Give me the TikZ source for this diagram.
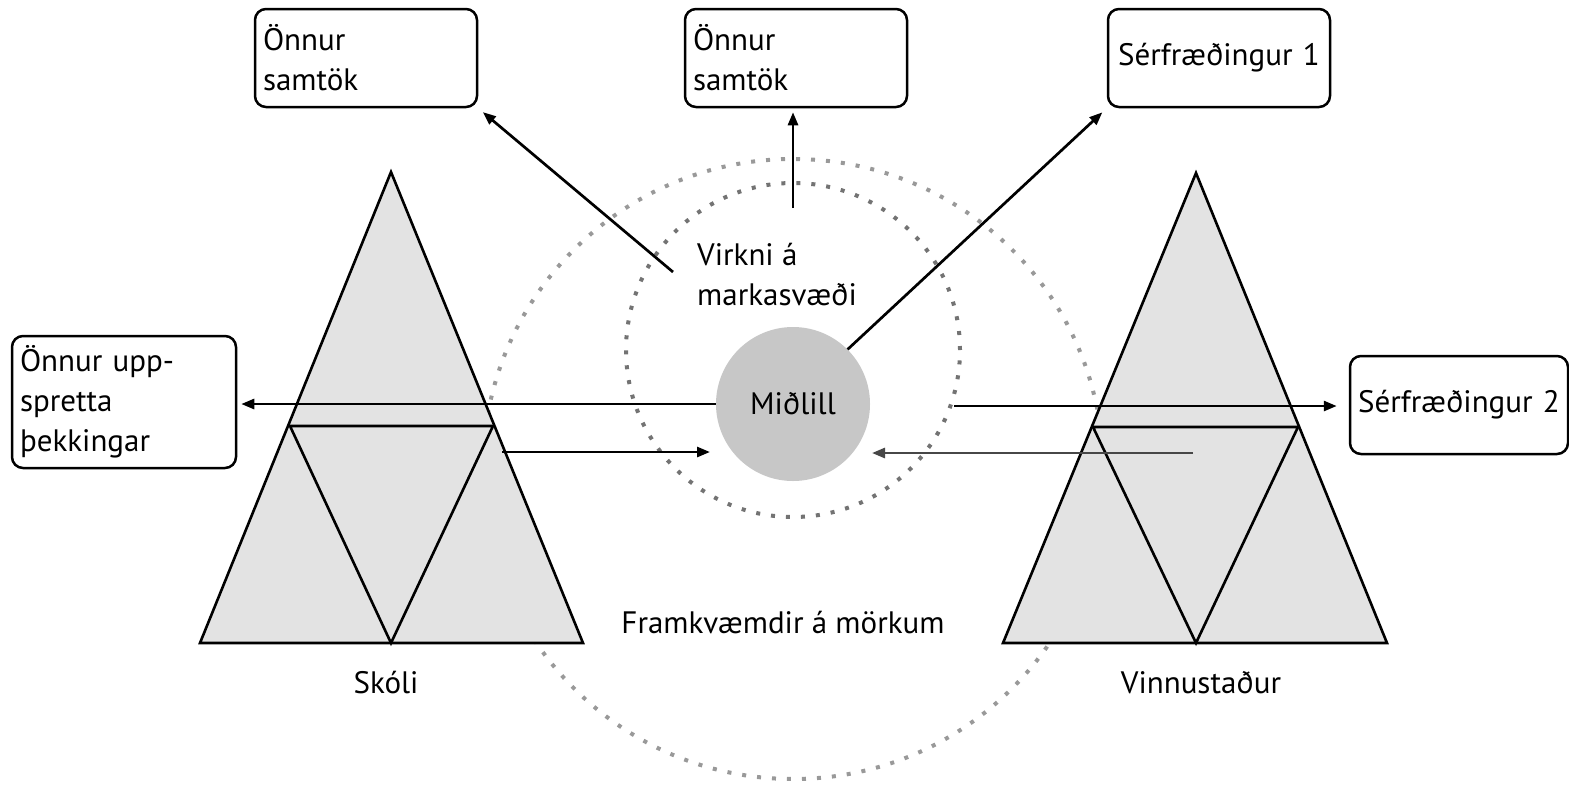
\documentclass[tikz,border=0pt]{standalone}
\usepackage{fontspec}
\setmainfont{PT Sans}
\usetikzlibrary{arrows.meta}
\begin{document}
\begin{tikzpicture}[x=1pt,y=-1pt,
  txt/.style={font=\fontsize{31}{40}\selectfont, inner sep=0pt},
  box/.style={draw, line width=2.5pt, rounded corners=11pt, inner xsep=8pt, inner ysep=0pt,
    font=\fontsize{31}{40}\selectfont},
  arr/.style={line width=2.7pt, -{Triangle[length=13pt,width=10pt]}},
  tri/.style={draw, line width=2.6pt, fill=black!11, line join=miter},
  trin/.style={draw, line width=2.6pt, line join=miter},
  dotsin/.style={draw=black!55, line width=4pt, dash pattern=on 4pt off 11pt},
  dotsout/.style={draw=black!40, line width=4pt, dash pattern=on 4pt off 11pt}]
\useasboundingbox (0,0) rectangle (1569,785);
\fill[white] (0,0) rectangle (1569,785);

% outer dotted circle
\draw[dotsout] (793,469) circle[radius=310pt];

% triangles
\draw[tri] (391,172) -- (583,643) -- (200,643) -- cycle;
\draw[trin] (290,426) -- (493,426) -- (391,643) -- cycle;
\draw[tri] (1196,173) -- (1387,643) -- (1003,643) -- cycle;
\draw[trin] (1093,427) -- (1298,427) -- (1196,643) -- cycle;

% inner dotted circle
\draw[dotsin] (793,350) circle[radius=167pt];

% boxes
\node[box, minimum width=222pt, minimum height=98pt, text width=206pt, align=left] (b1) at (366,58) {Önnur\\samtök};
\node[box, minimum width=222pt, minimum height=98pt, text width=206pt, align=left] (b2) at (796,58) {Önnur\\samtök};
\node[box, minimum width=222pt, minimum height=98pt, text width=206pt, align=center] (b3) at (1219,58) {Sérfræðingur 1};
\node[box, minimum width=224pt, minimum height=132pt, text width=208pt, align=left] (b4) at (124,402) {Önnur upp-\\spretta\\þekkingar};
\node[box, minimum width=218pt, minimum height=98pt, text width=202pt, align=center] (b5) at (1459,405) {Sérfræðingur 2};

% central circle
\node[circle, fill=black!22, minimum size=154pt, inner sep=0pt, font=\fontsize{31}{36}\selectfont] (m) at (793,404) {Miðlill};

% labels
\node[txt, anchor=west, align=left] (virk) at (697,275) {Virkni á\\markasvæði};
\node[txt, anchor=base] (fram) at (783,633) {Framkvæmdir á mörkum};
\node[txt, anchor=base] (skoli) at (386,693) {Skóli};
\node[txt, anchor=base] (vinna) at (1201,693) {Vinnustaður};

% connector end points
\coordinate (rs) at (954,406);
\coordinate (ls) at (502,452);
\coordinate (le) at (710,452);
\coordinate (rls) at (1193,453);
\coordinate (rle) at (872,453);
\coordinate (us) at (793,208);
\coordinate (ds) at (673,272);

% connectors
\draw[arr, shorten >=4pt] (m.west) -- (m.west -| b4.east);
\draw[arr, shorten >=12pt] (rs) -- (rs -| b5.west);
\draw[arr] (ls) -- (le);
\draw[arr, draw=black!72] (rls) -- (rle);
\draw[arr, shorten >=4pt] (us) -- (us |- b2.south);
\draw[arr, shorten >=6pt] (ds) -- (b1.south east);
\draw[arr, shorten >=6pt] (m.45) -- (b3.south west);
\end{tikzpicture}
\end{document}
